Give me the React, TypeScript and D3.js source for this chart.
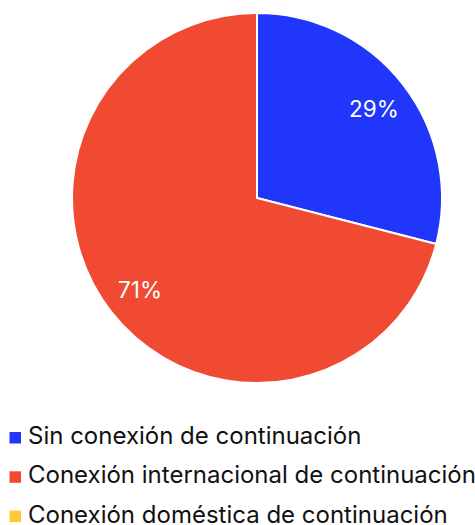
import React from "react";
import * as d3 from "d3";

const categories = [
  "Sin conexión de continuación",
  "Conexión internacional de continuación",
  "Conexión doméstica de continuación",
];
const values = [29, 71, 0];
const colors = ["#2136FB", "#F14A33", "#FFC933"];

const W = 475;
const H = 525;
const cx = 257;
const cy = 198;
const R = 185;
const FONT = "Inter, 'Noto Sans', sans-serif";

export default function App() {
  const pie = d3.pie<number>().value((d) => d).sort(null);
  const arcs = pie(values);
  const arc = d3.arc<d3.PieArcDatum<number>>().innerRadius(0).outerRadius(R);
  const labelArc = d3
    .arc<d3.PieArcDatum<number>>()
    .innerRadius(R * 0.8)
    .outerRadius(R * 0.8);
  const total = d3.sum(values);

  return (
    <svg
      width={W}
      height={H}
      style={{ position: "absolute", left: 0, top: 0 }}
      fontFamily={FONT}
    >
      <g transform={`translate(${cx},${cy})`}>
        {arcs.map((a, i) =>
          a.value > 0 ? (
            <path
              key={i}
              d={arc(a) || ""}
              fill={colors[i]}
              stroke="#fff"
              strokeWidth={2}
            />
          ) : null
        )}
        {arcs.map((a, i) => {
          if (a.value <= 0) return null;
          const [x, y] = labelArc.centroid(a);
          return (
            <text
              key={i}
              x={x}
              y={y + 1}
              textAnchor="middle"
              dominantBaseline="central"
              fill="#fff"
              fontSize={22.5}
            >
              {`${Math.round((a.value / total) * 100)}%`}
            </text>
          );
        })}
      </g>
      <g>
        {categories.map((c, i) => (
          <g key={i} transform={`translate(0,${444 + i * 39.3})`}>
            <rect x={9.5} y={-12} width={11.5} height={11.5} fill={colors[i]} />
            <text x={28} y={0} fontSize={24} fill="#111">
              {c}
            </text>
          </g>
        ))}
      </g>
    </svg>
  );
}
